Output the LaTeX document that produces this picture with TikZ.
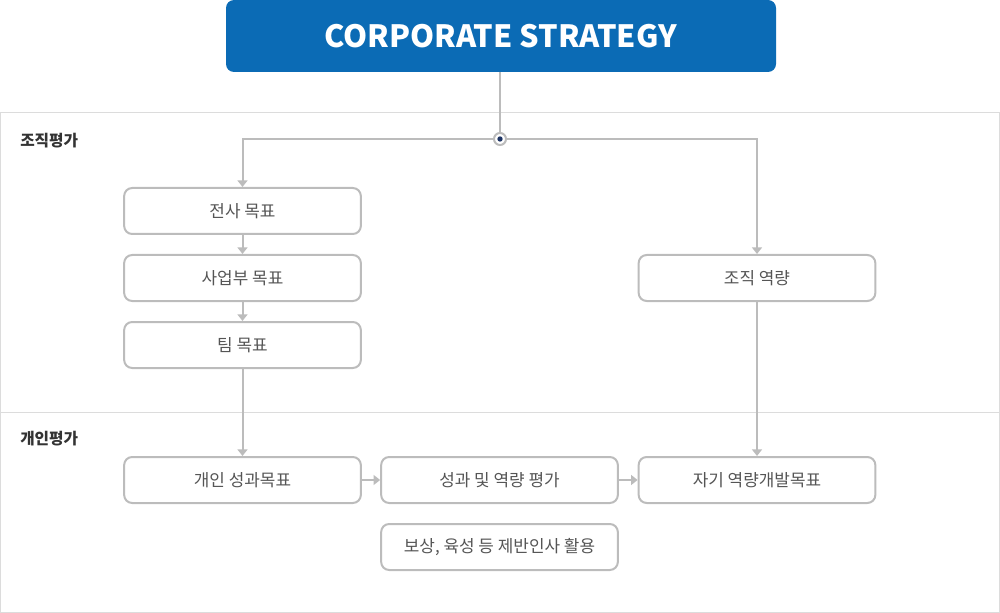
\documentclass[tikz,border=0pt]{standalone}
\usepackage{fontspec}
\setmainfont{Noto Sans CJK KR}
\usetikzlibrary{arrows.meta}
\definecolor{corpblue}{HTML}{0B6BB5}
\definecolor{boxgray}{HTML}{BCBCBC}
\definecolor{panelgray}{HTML}{DCDCDC}
\definecolor{txtgray}{HTML}{555555}
\definecolor{lblgray}{HTML}{333333}
\definecolor{navy}{HTML}{1E3464}
\tikzset{
  stepbox/.style={draw=boxgray, line width=1.5pt, rounded corners=6pt, fill=white,
    minimum width=177.5pt, minimum height=34.5pt, inner sep=0pt,
    font=\fontsize{12.7pt}{14pt}\selectfont, text=txtgray},
  conn/.style={draw=boxgray, line width=1.5pt},
  arr/.style={conn, -{Triangle[width=7.5pt,length=5pt]}},
  seclabel/.style={anchor=west, font=\fontsize{11.8pt}{13pt}\selectfont\bfseries, text=lblgray, inner sep=0pt}
}
\begin{document}
\begin{tikzpicture}[x=0.75pt,y=-0.75pt]
\useasboundingbox (0,0) rectangle (1000,613);
% panels
\draw[panelgray, line width=0.75pt] (0.5,113) rectangle (999.5,612.3);
\draw[panelgray, line width=0.75pt] (0.5,412) -- (999.5,412);
\node[seclabel] (lbl1) at (20,141) {조직평가};
\node[seclabel] (lbl2) at (20,439) {개인평가};
% top box
\node[fill=corpblue, rounded corners=6pt, minimum width=412.5pt, minimum height=54pt, inner sep=0pt,
  text=white, font=\fontsize{23pt}{26pt}\selectfont\bfseries] (top) at (501,36) {CORPORATE STRATEGY};
% boxes
\node[stepbox] (n1) at (242.5,211) {전사 목표};
\node[stepbox] (n2) at (242.5,278) {사업부 목표};
\node[stepbox] (n3) at (242.5,345) {팀 목표};
\node[stepbox] (org) at (757,278) {조직 역량};
\node[stepbox] (p1) at (242.5,480) {개인 성과목표};
\node[stepbox] (p2) at (499.5,480) {성과 및 역량 평가};
\node[stepbox] (p3) at (757,480) {자기 역량개발목표};
\node[stepbox] (p4) at (499.5,547) {보상, 육성 등 제반인사 활용};
% connectors
\coordinate (j) at (500,139);
\draw[conn] (top.south -| j) -- (j);
\draw[arr] (j) -| (n1.north);
\draw[arr] (j) -| (org.north);
\draw[arr] (n1) -- (n2);
\draw[arr] (n2) -- (n3);
\draw[arr] (n3) -- (p1);
\draw[arr] (org) -- (p3);
\draw[arr] (p1) -- (p2);
\draw[arr] (p2) -- (p3);
% junction dot
\node[circle, draw=boxgray, line width=1.5pt, fill=white, minimum size=9pt, inner sep=0pt] (dot) at (j) {};
\node[circle, fill=navy, minimum size=4pt, inner sep=0pt] (dotc) at (j) {};
\end{tikzpicture}
\end{document}
